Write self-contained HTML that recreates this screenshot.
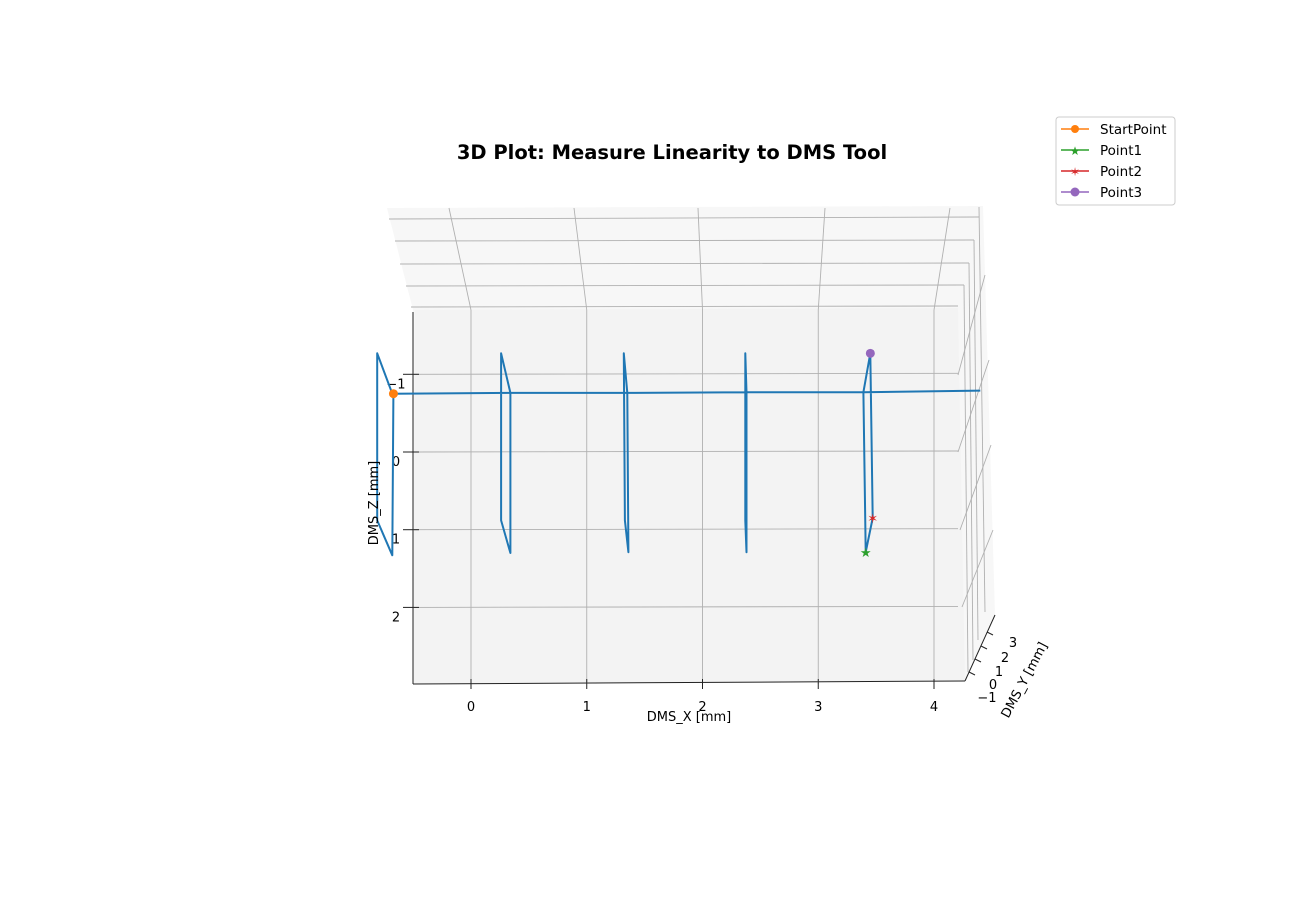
<!DOCTYPE html>
<html><head><meta charset="utf-8"><style>
body{margin:0;background:#fff;}
svg{display:block;font-family:"DejaVu Sans","Liberation Sans",sans-serif;}
</style></head><body>
<svg id="chart" width="1313" height="919" viewBox="0 0 1313 919" xmlns="http://www.w3.org/2000/svg">
<rect width="1313" height="919" fill="#fff"/>
<polygon points="387,208 983,206 995,615 965,681 413,684 413,310" fill="#f7f7f7"/>
<polygon points="415,310 958,308 965,681 413,684" fill="#f3f3f3"/>
<g id="grid" stroke="#b0b0b0" stroke-width="0.9" fill="none">
<line x1="389" y1="219" x2="979" y2="217"/><line x1="395" y1="241" x2="974" y2="240"/>
<line x1="400" y1="264" x2="969" y2="263"/><line x1="406" y1="286" x2="964" y2="285"/>
<line x1="411" y1="307" x2="958" y2="306"/>
<line x1="979" y1="207" x2="985" y2="612"/><line x1="974" y1="240" x2="978" y2="640"/>
<line x1="969" y1="263" x2="973" y2="660"/><line x1="964" y1="285" x2="968" y2="672"/>
<line x1="958" y1="375" x2="985" y2="275"/><line x1="958" y1="452" x2="989" y2="360"/>
<line x1="960" y1="530" x2="991" y2="445"/><line x1="962" y1="607" x2="993" y2="530"/>
</g>
<g id="axes" stroke="#222" stroke-width="1" fill="none">
<line x1="413" y1="312" x2="413" y2="684"/>
<line x1="413" y1="684" x2="965" y2="681"/>
<line x1="965" y1="681" x2="995" y2="615"/>
</g>
<g id="dyn"></g>
<text x="672" y="159" text-anchor="middle" font-size="19.5" font-weight="bold">3D Plot: Measure Linearity to DMS Tool</text>
<text x="689" y="721" text-anchor="middle" font-size="13">DMS_X [mm]</text>
<text transform="translate(378,503) rotate(-90)" text-anchor="middle" font-size="13">DMS_Z [mm]</text>
<text transform="translate(1028,682) rotate(-62)" text-anchor="middle" font-size="13">DMS_Y [mm]</text>
<g font-size="13">
<text x="987" y="702" text-anchor="middle">−1</text><text x="993" y="689" text-anchor="middle">0</text>
<text x="999" y="676" text-anchor="middle">1</text><text x="1005" y="662" text-anchor="middle">2</text>
<text x="1013" y="647" text-anchor="middle">3</text>
</g>
<g stroke="#222">
<line x1="969" y1="672" x2="975" y2="675"/><line x1="975" y1="659" x2="981" y2="662"/><line x1="981" y1="646" x2="987" y2="649"/><line x1="987" y1="632" x2="993" y2="635"/>
</g>
<g>
<rect x="1056" y="117" width="119" height="88" rx="3" fill="#fff" stroke="#ccc"/>
<g><line x1="1061" y1="129" x2="1089" y2="129" stroke="#ff7f0e" stroke-width="1.5"/><circle cx="1075" cy="129" r="4" fill="#ff7f0e"/><text x="1100" y="134" font-size="13.5">StartPoint</text></g>
<g><line x1="1061" y1="150" x2="1089" y2="150" stroke="#2ca02c" stroke-width="1.5"/><text x="1075" y="155" font-size="12" fill="#2ca02c" text-anchor="middle">★</text><text x="1100" y="155" font-size="13.5">Point1</text></g>
<g><line x1="1061" y1="171" x2="1089" y2="171" stroke="#d62728" stroke-width="1.5"/><text x="1075" y="176" font-size="12" fill="#d62728" text-anchor="middle">✶</text><text x="1100" y="176" font-size="13.5">Point2</text></g>
<g><line x1="1061" y1="192" x2="1089" y2="192" stroke="#9467bd" stroke-width="1.5"/><circle cx="1075" cy="192" r="4.5" fill="#9467bd"/><text x="1100" y="197" font-size="13.5">Point3</text></g>
</g>
</svg>
<script>
const xTicks = [0, 1, 2, 3, 4];
const zTicks = [-1, 0, 1, 2];
const xTickLabels = ["0", "1", "2", "3", "4"];
const zTickLabels = ["−1", "0", "1", "2"];
const trajX = [-0.67,-0.68,-0.81,-0.81,-0.68,0.34,0.34,0.26,0.26,0.34,1.35,1.36,1.33,1.32,1.35,2.38,2.38,2.37,2.37,2.38,3.39,3.41,3.47,3.45,3.39,4.40];
const trajZ = [-0.75,1.33,0.88,-1.27,-0.75,-0.76,1.30,0.88,-1.27,-0.76,-0.76,1.29,0.88,-1.27,-0.76,-0.77,1.29,0.88,-1.27,-0.77,-0.77,1.29,0.85,-1.27,-0.77,-0.79];
const markerX = [-0.67, 3.41, 3.47, 3.45];
const markerZ = [-0.75, 1.29, 0.85, -1.27];
const markerNames = ["start-point", "point1", "point2", "point3"];
function sx(x){return 471 + x*115.75;}
function sz(z){return 452 + z*77.7;}
const NS="http://www.w3.org/2000/svg";
const g=document.getElementById('dyn');
function mk(t,a){const e=document.createElementNS(NS,t);for(const k in a)e.setAttribute(k,a[k]);g.appendChild(e);return e;}
xTicks.forEach((v,i)=>{
  const l=mk('line',{x1:sx(v),y1:310,x2:sx(v),y2:684,stroke:'#b0b0b0','stroke-width':0.9});
  
  
  const b=mk('line',{x1:sx(v),y1:679,x2:sx(v),y2:689,stroke:'#222'});
  
  
  const t=mk('text',{x:sx(v),y:711,'text-anchor':'middle','font-size':13});
  t.textContent=xTickLabels[i];
  
  
});
const topDiag=[449,574,698,825,950];
xTicks.forEach((v,i)=>{
  const l=mk('line',{x1:topDiag[i],y1:208,x2:sx(v),y2:310,stroke:'#b0b0b0','stroke-width':0.9});
  
  
});
zTicks.forEach((v,i)=>{
  const l=mk('line',{x1:413,y1:sz(v),x2:958,y2:sz(v)-1,stroke:'#b0b0b0','stroke-width':0.9});
  
  
  const b=mk('line',{x1:403,y1:sz(v),x2:419,y2:sz(v),stroke:'#222'});
  
  
  const t=mk('text',{x:396,y:sz(v)+14,'text-anchor':'middle','font-size':13});
  t.textContent=zTickLabels[i];
  
  
});
const pts=trajX.map((x,i)=>sx(x).toFixed(1)+','+sz(trajZ[i]).toFixed(1)).join(' ');
const pl=mk('polyline',{points:pts,fill:'none',stroke:'#1f77b4','stroke-width':2,'stroke-linejoin':'round'});


const colors=['#ff7f0e','#2ca02c','#d62728','#9467bd'];
markerX.forEach((x,i)=>{
  let m;
  if(i===0||i===3){m=mk('circle',{cx:sx(x),cy:sz(markerZ[i]),r:4.5,fill:colors[i]});}
  else{m=mk('text',{x:sx(x),y:sz(markerZ[i])+5,'text-anchor':'middle','font-size':13,fill:colors[i]});m.textContent=i===1?'★':'✶';}
  
  
});
</script>
</body></html>
